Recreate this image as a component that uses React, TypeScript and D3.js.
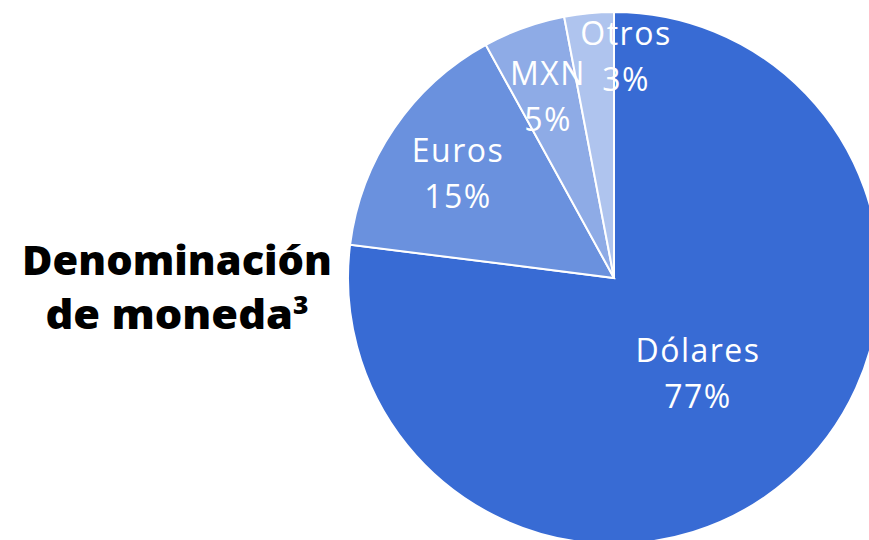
import React from "react";
import * as d3 from "d3";

const categories = ["Dólares", "Euros", "MXN", "Otros"];
const values = [77, 15, 5, 3];
const colors = ["#386BD4", "#6A91DE", "#8EABE6", "#AFC4EE"];
const titleLines = ["Denominación", "de moneda"];
const titleSup = "3";

const W = 869;
const H = 540;
const cx = 614;
const cy = 278;
const R = 266;

// label anchor (center x, first baseline y) relative to pie centre
const labelOffsets: [number, number][] = [
  [84, 84],
  [-156, -116],
  [-66, -193],
  [12, -233],
];

export default function App() {
  const pie = d3.pie<number>().sort(null).value((d) => d)(values);
  const arc = d3.arc<d3.PieArcDatum<number>>().innerRadius(0).outerRadius(R);
  return (
    <svg
      width={W}
      height={H}
      style={{ position: "absolute", left: 0, top: 0, display: "block" }}
    >
      <g transform={`translate(${cx},${cy})`}>
        {pie.map((p, i) => (
          <path key={i} d={arc(p) || ""} fill={colors[i]} stroke="#fff" strokeWidth={2} />
        ))}
        {pie.map((p, i) => {
          const [x, y] = labelOffsets[i];
          return (
            <text
              key={i}
              textAnchor="middle"
              fill="#fff"
              fontSize={32}
              fontWeight={400}
              letterSpacing={1.5}
              fontFamily="'Open Sans', sans-serif"
            >
              <tspan x={x} y={y}>{categories[i]}</tspan>
              <tspan x={x} y={y + 46}>{values[i]}%</tspan>
            </text>
          );
        })}
      </g>
      <text
        x={177}
        y={275}
        textAnchor="middle"
        fontSize={41}
        fontWeight={800}
        fill="#000"
        fontFamily="'Open Sans', sans-serif"
        textLength={310}
        lengthAdjust="spacingAndGlyphs"
      >
        {titleLines[0]}
      </text>
      <text
        x={177}
        y={329}
        textAnchor="middle"
        fontSize={41}
        fontWeight={800}
        fill="#000"
        fontFamily="'Open Sans', sans-serif"
        textLength={263}
        lengthAdjust="spacingAndGlyphs"
      >
        {titleLines[1]}
        <tspan fontSize={25} dy={-15}>{titleSup}</tspan>
      </text>
    </svg>
  );
}
